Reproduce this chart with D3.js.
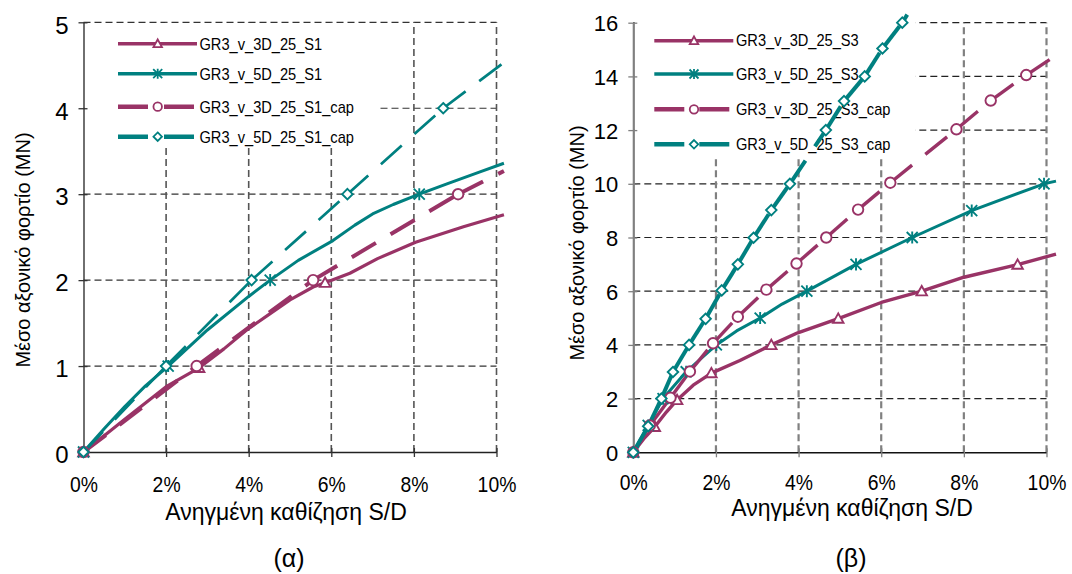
<!DOCTYPE html>
<html><head><meta charset="utf-8">
<script src="https://cdn.jsdelivr.net/npm/d3@7"></script>
<style>
body{margin:0;background:#fff}
svg{display:block}
text{font-family:"Liberation Sans",Arial,sans-serif;fill:#000}
</style>
</head><body>
<svg id="c" width="1072" height="574"></svg>
<script>
// ---------------- DATA ----------------
const xTickValues = [0, 2, 4, 6, 8, 10];            // S/D in %
const yTickValuesA = [0, 1, 2, 3, 4, 5];            // MN
const yTickValuesB = [0, 2, 4, 6, 8, 10, 12, 14, 16];
const namesA = ["GR3_v_3D_25_S1", "GR3_v_5D_25_S1", "GR3_v_3D_25_S1_cap", "GR3_v_5D_25_S1_cap"];
const namesB = ["GR3_v_3D_25_S3", "GR3_v_5D_25_S3", "GR3_v_3D_25_S3_cap", "GR3_v_5D_25_S3_cap"];
const xTitle = "Ανηγμένη καθίζηση S/D";
const yTitle = "Μέσο αξονικό φορτίο (MN)";
const captions = ["(α)", "(β)"];

// panel (α) — [S/D %, load MN]
const a3D_line = [[0,0],[0.5,0.19],[1,0.38],[2,0.76],[2.8,0.98],[3.4,1.2],[3.95,1.42],[4.52,1.61],[5.0,1.77],[5.56,1.92],[5.85,1.97],[6.45,2.08],[7.12,2.25],[8.04,2.44],[9.2,2.62],[10.18,2.76]];
const a3D_marks = [[0,0],[2.8,0.98],[5.85,1.97]];
const a5D_line = [[0,0],[0.5,0.27],[1,0.53],[1.5,0.77],[2.05,1.0],[3,1.42],[4,1.81],[4.52,2.0],[5.2,2.23],[6.04,2.46],[6.57,2.64],[7.0,2.77],[7.5,2.88],[8.13,3.0],[8.8,3.12],[9.6,3.26],[10.18,3.36]];
const a5D_marks = [[0,0],[2.05,1.0],[4.52,2.0],[8.13,3.0]];
const a3Dcap_line = [[0,0],[2.74,1.0],[5.56,2.0],[9.07,3.0],[10.18,3.27]];
const a3Dcap_marks = [[0,0],[2.74,1.0],[5.56,2.0],[9.07,3.0]];
const a5Dcap_line = [[0,0],[2.0,1.0],[4.07,2.0],[6.39,3.0],[8.71,4.0],[10.12,4.51]];
const a5Dcap_marks = [[0,0],[2.0,1.0],[4.07,2.0],[6.39,3.0],[8.71,4.0]];

// panel (β)
const b3D_line = [[0,0],[0.25,0.5],[0.52,0.95],[0.8,1.5],[1.06,1.95],[1.45,2.5],[1.89,2.95],[2.58,3.42],[3.34,4.0],[3.98,4.45],[4.96,4.98],[6.0,5.58],[6.98,6.0],[8.0,6.52],[9.3,6.99],[10.23,7.38]];
const b3D_marks = [[0,0],[0.52,0.95],[1.06,1.95],[1.89,2.95],[3.34,4.0],[4.96,4.98],[6.98,6.0],[9.3,6.99]];
const b5D_line = [[0,0],[0.36,1],[0.72,2],[1.28,3],[2.01,4],[2.5,4.52],[3.07,5],[3.6,5.52],[4.2,6],[5.39,7],[6.75,8],[8.19,9],[9.94,10],[10.23,10.1]];
const b5D_marks = [[0,0],[0.36,1],[0.72,2],[1.28,3],[2.01,4],[3.07,5],[4.2,6],[5.39,7],[6.75,8],[8.19,9],[9.94,10]];
const b3Dcap_line = [[0,0],[0.4,1.0],[0.9,2.03],[1.37,3.01],[1.93,4.06],[2.53,5.05],[3.22,6.06],[3.95,7.03],[4.67,8.0],[5.44,9.04],[6.22,10.04],[7.82,12.03],[8.65,13.1],[9.51,14.05],[10.09,14.64]];
const b3Dcap_marks = [[0,0],[0.4,1.0],[0.9,2.03],[1.37,3.01],[1.93,4.06],[2.53,5.05],[3.22,6.06],[3.95,7.03],[4.67,8.0],[5.44,9.04],[6.22,10.04],[7.82,12.03],[8.65,13.1],[9.51,14.05]];
const b5Dcap_line = [[0,0],[0.36,0.97],[0.68,2.0],[0.96,2.99],[1.35,4.0],[1.75,4.97],[2.14,6.03],[2.53,7.0],[2.91,7.99],[3.34,9.02],[3.79,10.0],[4.66,12.0],[5.1,13.08],[5.6,14.0],[6.03,15.04],[6.51,16.0],[6.63,16.3]];
const b5Dcap_marks = [[0,0],[0.36,0.97],[0.68,2.0],[0.96,2.99],[1.35,4.0],[1.75,4.97],[2.14,6.03],[2.53,7.0],[2.91,7.99],[3.34,9.02],[3.79,10.0],[4.66,12.0],[5.1,13.08],[5.6,14.0],[6.03,15.04],[6.51,16.0]];

// ---------------- STYLE / LAYOUT ----------------
const PURPLE = "#993366", TEAL = "#008080";
const DASH = "28,17";
const styleA = [
  {color: PURPLE, marker: "triangle", dashed: false, width: 3.2},
  {color: TEAL,   marker: "star",     dashed: false, width: 3},
  {color: PURPLE, marker: "circle",   dashed: true,  width: 4},
  {color: TEAL,   marker: "diamond",  dashed: true,  width: 2.7}
];
const styleB = [
  {color: PURPLE, marker: "triangle", dashed: false, width: 3.4},
  {color: TEAL,   marker: "star",     dashed: false, width: 3},
  {color: PURPLE, marker: "circle",   dashed: true,  width: 3.4},
  {color: TEAL,   marker: "diamond",  dashed: true,  width: 4}
];

const svg = d3.select("#c");

function squeeze(sel, k) {
  sel.each(function () {
    const w = this.getComputedTextLength();
    d3.select(this).attr("textLength", w * k).attr("lengthAdjust", "spacingAndGlyphs");
  });
}

function drawMarker(g, type, cx, cy, s, color, sw) {
  const h = s / 2;
  let el;
  if (type === "circle") {
    el = g.append("circle").attr("cx", cx).attr("cy", cy).attr("r", h).attr("fill", "#fff");
  } else if (type === "diamond") {
    el = g.append("path").attr("d", `M${cx},${cy-h}L${cx+h},${cy}L${cx},${cy+h}L${cx-h},${cy}Z`).attr("fill", "#fff");
  } else if (type === "triangle") {
    el = g.append("path").attr("d", `M${cx},${cy-h}L${cx+h},${cy+h*0.8}L${cx-h},${cy+h*0.8}Z`).attr("fill", "#fff");
  } else {
    el = g.append("path").attr("d", `M${cx-h},${cy-h}L${cx+h},${cy+h}M${cx+h},${cy-h}L${cx-h},${cy+h}M${cx},${cy-h*1.1}L${cx},${cy+h*1.1}`).attr("fill", "none");
  }
  el.attr("stroke", color).attr("stroke-width", sw);
}

function drawPanel(p) {
  const x = d3.scaleLinear().domain([0, 10]).range(p.xRange);
  const y = d3.scaleLinear().domain([0, p.yMax]).range(p.yRange);
  const g = svg.append("g");

  // gridlines
  g.append("g").selectAll("line").data(p.yTicks.filter(d => d > 0)).join("line")
    .attr("x1", x(0)).attr("x2", x(10)).attr("y1", d => y(d)).attr("y2", d => y(d))
    .attr("stroke", p.hGridColor).attr("stroke-width", p.hGridWidth).attr("stroke-dasharray", "7,4");
  g.append("g").selectAll("line").data(xTickValues.filter(d => d > 0)).join("line")
    .attr("x1", d => x(d)).attr("x2", d => x(d)).attr("y1", y(0)).attr("y2", y(p.yMax))
    .attr("stroke", p.vGridColor).attr("stroke-width", p.vGridWidth).attr("stroke-dasharray", "7,4");

  // legend background
  g.append("rect").attr("x", p.legBox[0]).attr("y", p.legBox[1]).attr("width", p.legBox[2]).attr("height", p.legBox[3]).attr("fill", "#fff");

  // axes
  const xAxis = g.append("g").attr("transform", `translate(0,${y(0)})`)
    .call(d3.axisBottom(x).tickValues(xTickValues).tickFormat(d => d + "%").tickSize(5).tickSizeOuter(0));
  xAxis.select(".domain").attr("stroke", p.xAxisColor).attr("stroke-width", p.xAxisWidth);
  xAxis.selectAll(".tick line").attr("y1", -4).attr("stroke", p.tickColor).attr("stroke-width", 1.3);
  const xt = xAxis.selectAll(".tick text").attr("y", p.xLabelBase).attr("dy", null)
    .style("font-size", "22px").attr("fill", "#000");
  squeeze(xt, 0.88);

  const yAxis = g.append("g").attr("transform", `translate(${x(0)},0)`)
    .call(d3.axisLeft(y).tickValues(p.yTicks).tickFormat(d3.format("d")).tickSize(5).tickPadding(10).tickSizeOuter(0));
  yAxis.select(".domain").attr("stroke", p.yAxisColor).attr("stroke-width", p.yAxisWidth);
  yAxis.selectAll(".tick line").attr("x1", 4).attr("stroke", p.tickColor).attr("stroke-width", 1.3);
  yAxis.selectAll(".tick text").attr("dy", p.yLabelDy).style("font-size", p.yLabelSize).attr("fill", "#000");
  g.selectAll(".tick text").style("font-family", '"Liberation Sans",Arial,sans-serif');

  // legend entries
  p.names.forEach((name, i) => {
    const st = p.styles[i];
    const ly = p.legRows[i];
    const ln = g.append("line").attr("x1", p.legLine[0]).attr("x2", p.legLine[1]).attr("y1", ly).attr("y2", ly)
      .attr("stroke", st.color).attr("stroke-width", st.dashed ? 4.5 : 3.5);
    if (st.dashed) ln.attr("stroke-dasharray", p.legDash);
    drawMarker(g, st.marker, p.legLine[2], ly, st.marker === "star" ? 9 : 8.5, st.color, 1.8);
    const t = g.append("text").attr("x", p.legText).attr("y", ly + p.legBaseOff).style("font-size", "17px").text(name);
    squeeze(t, 0.86);
  });

  // series
  const line = d3.line().x(d => x(d[0])).y(d => y(d[1]));
  p.series.forEach((s, i) => {
    const st = p.styles[i];
    if (!st.dashed) {
      g.append("path").datum(s.line).attr("d", line).attr("fill", "none")
        .attr("stroke", st.color).attr("stroke-width", st.width)
        .attr("stroke-linejoin", "round");
    } else {
      // dash pattern restarts at each data point
      for (let k = 0; k < s.line.length - 1; k++) {
        g.append("path").datum([s.line[k], s.line[k + 1]]).attr("d", line).attr("fill", "none")
          .attr("stroke", st.color).attr("stroke-width", st.width).attr("stroke-dasharray", DASH);
      }
    }
  });
  p.series.forEach((s, i) => {
    const st = p.styles[i];
    s.marks.forEach(d => drawMarker(g, st.marker, x(d[0]), y(d[1]), st.marker === "star" ? 11 : 10.5, st.color, 1.9));
  });

  // titles
  g.append("text").attr("x", p.xTitlePos[0]).attr("y", p.xTitlePos[1]).attr("text-anchor", "middle")
    .style("font-size", "23px").text(xTitle);
  g.append("text").attr("transform", `translate(${p.yTitlePos[0]},${p.yTitlePos[1]}) rotate(-90)`)
    .attr("text-anchor", "middle").style("font-size", "20px").text(yTitle);
  g.append("text").attr("x", p.capPos[0]).attr("y", p.capPos[1]).attr("text-anchor", "middle")
    .style("font-size", "25px").text(p.caption);
}

drawPanel({
  xRange: [83.5, 496.5], yRange: [452, 22.3], yMax: 5, yTicks: yTickValuesA,
  hGridColor: "#333", hGridWidth: 1.2, vGridColor: "#555", vGridWidth: 1.6,
  xAxisColor: "#222", xAxisWidth: 1.3, yAxisColor: "#222", yAxisWidth: 1.3, tickColor: "#333",
  xLabelBase: 40, yLabelDy: "0.45em", yLabelSize: "24px",
  legBox: [84.5, 27, 293, 120], legRows: [43.7, 73.7, 106.7, 136.7], legLine: [118, 197, 157.7], legDash: "30,16",
  legText: 199.5, legBaseOff: 6.3,
  names: namesA, styles: styleA,
  series: [
    {line: a3D_line, marks: a3D_marks},
    {line: a5D_line, marks: a5D_marks},
    {line: a3Dcap_line, marks: a3Dcap_marks},
    {line: a5Dcap_line, marks: a5Dcap_marks}
  ],
  xTitlePos: [286, 520], yTitlePos: [30, 250], capPos: [289, 567], caption: captions[0]
});

drawPanel({
  xRange: [633.3, 1046.5], yRange: [452.3, 22.7], yMax: 16, yTicks: yTickValuesB,
  hGridColor: "#222", hGridWidth: 1.2, vGridColor: "#808080", vGridWidth: 2.2,
  xAxisColor: "#111", xAxisWidth: 1.4, yAxisColor: "#808080", yAxisWidth: 2.2, tickColor: "#808080",
  xLabelBase: 38, yLabelDy: "0.36em", yLabelSize: "22px",
  legBox: [634.6, 13, 281, 145], legRows: [40.7, 74, 109.3, 144.3], legLine: [654.3, 733.3, 694], legDash: "30,15",
  legText: 736, legBaseOff: 5.5,
  names: namesB, styles: styleB,
  series: [
    {line: b3D_line, marks: b3D_marks},
    {line: b5D_line, marks: b5D_marks},
    {line: b3Dcap_line, marks: b3Dcap_marks},
    {line: b5Dcap_line, marks: b5Dcap_marks}
  ],
  xTitlePos: [852, 516], yTitlePos: [584, 243], capPos: [851, 567], caption: captions[1]
});
</script>
</body></html>
